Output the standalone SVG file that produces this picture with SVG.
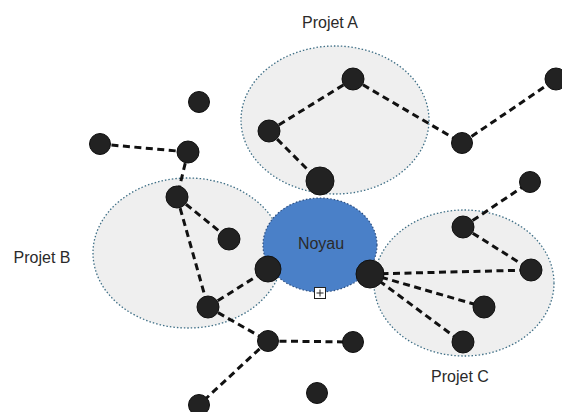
<svg xmlns="http://www.w3.org/2000/svg" width="562" height="412" viewBox="0 0 562 412">
<style>
.grp{fill:#efefef;stroke:#3f6f86;stroke-width:1.3;stroke-dasharray:1.5 2}
.core{fill:#4a80c8;stroke:#2d4f80;stroke-width:1.2;stroke-dasharray:1.5 2}
.n{fill:#222;stroke:#111;stroke-width:1}
.e line{stroke:#111;stroke-width:3;stroke-dasharray:7 4.5;fill:none}
.lbl{font-family:"Liberation Sans",Arial,sans-serif;font-size:16px;fill:#2a2a2a;text-anchor:middle}
</style>
<rect width="562" height="412" fill="#fff"/>
<g id="projetA"><ellipse class="grp" cx="335" cy="120" rx="94" ry="74"/><text class="lbl" x="330" y="28">Projet A</text></g>
<g id="projetB"><ellipse class="grp" cx="188" cy="253" rx="95" ry="75"/><text class="lbl" x="42" y="263">Projet B</text></g>
<g id="projetC"><ellipse class="grp" cx="464" cy="283" rx="90" ry="73"/><text class="lbl" x="460" y="382">Projet C</text></g>
<g id="noyau"><ellipse class="core" cx="320" cy="245" rx="57" ry="47"/><text class="lbl" x="321" y="249">Noyau</text>
<g id="marker"><rect x="314.5" y="287.5" width="11" height="11" fill="#fff" stroke="#222" stroke-width="1"/><line x1="316.5" y1="293" x2="323.5" y2="293" stroke="#222" stroke-width="1"/><line x1="320" y1="289.5" x2="320" y2="296.5" stroke="#222" stroke-width="1"/></g></g>
<g id="connectors" class="e">
<line x1="269" y1="131" x2="353" y2="79"/>
<line x1="269" y1="131" x2="320" y2="182"/>
<line x1="353" y1="79" x2="462" y2="143"/>
<line x1="462" y1="143" x2="556" y2="79"/>
<line x1="100" y1="144" x2="188" y2="152"/>
<line x1="188" y1="152" x2="177" y2="197"/>
<line x1="177" y1="197" x2="229" y2="239"/>
<line x1="177" y1="197" x2="208" y2="307"/>
<line x1="208" y1="307" x2="268" y2="269"/>
<line x1="208" y1="307" x2="268" y2="341"/>
<line x1="268" y1="341" x2="199" y2="405"/>
<line x1="268" y1="341" x2="353" y2="342"/>
<line x1="463" y1="227" x2="530" y2="182"/>
<line x1="463" y1="227" x2="531" y2="270"/>
<line x1="370" y1="274" x2="531" y2="270"/>
<line x1="370" y1="274" x2="484" y2="307"/>
<line x1="370" y1="274" x2="463" y2="343"/>
</g>
<g id="nodes">
<circle id="a1" class="n" cx="353" cy="79" r="11"/>
<circle id="a2" class="n" cx="269" cy="131" r="11"/>
<circle id="a3" class="n" cx="320" cy="181" r="14"/>
<circle id="a4" class="n" cx="462" cy="143" r="10.5"/>
<circle id="a5" class="n" cx="556" cy="79" r="11"/>
<circle id="f1" class="n" cx="199" cy="102" r="10.5"/>
<circle id="b1" class="n" cx="100" cy="144" r="10.5"/>
<circle id="b2" class="n" cx="188" cy="152" r="11"/>
<circle id="b3" class="n" cx="177" cy="197" r="11"/>
<circle id="b4" class="n" cx="229" cy="239" r="11"/>
<circle id="b5" class="n" cx="268" cy="269" r="13"/>
<circle id="b6" class="n" cx="208" cy="307" r="11"/>
<circle id="b7" class="n" cx="268" cy="341" r="10.5"/>
<circle id="b8" class="n" cx="199" cy="405" r="10.5"/>
<circle id="c1" class="n" cx="370" cy="274" r="14"/>
<circle id="c2" class="n" cx="463" cy="227" r="11"/>
<circle id="c3" class="n" cx="530" cy="182" r="10.5"/>
<circle id="c4" class="n" cx="531" cy="270" r="11"/>
<circle id="c5" class="n" cx="484" cy="307" r="11"/>
<circle id="c6" class="n" cx="463" cy="342" r="11"/>
<circle id="c7" class="n" cx="353" cy="342" r="10.5"/>
<circle id="f2" class="n" cx="317" cy="393" r="10.5"/>
</g>
</svg>
